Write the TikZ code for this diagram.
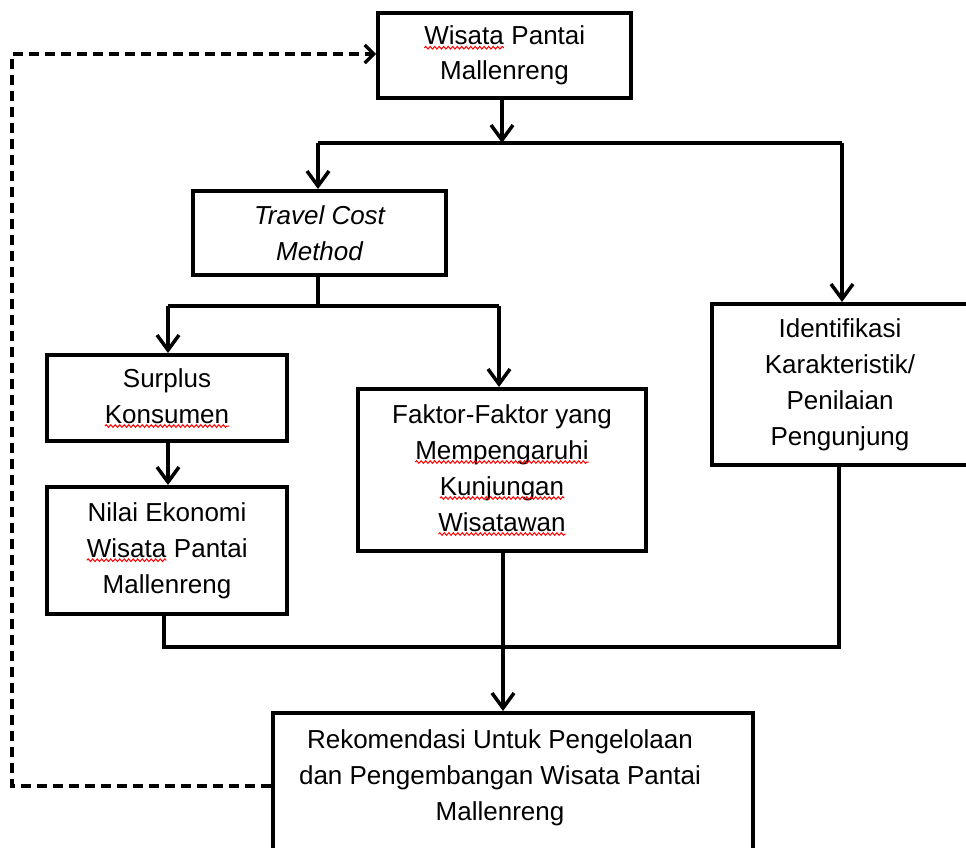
\documentclass[tikz,border=0pt]{standalone}
\usepackage{fontspec}
\setmainfont{Liberation Sans}
\usetikzlibrary{arrows.meta,decorations.pathmorphing}
\newcommand\spellmark[1]{\tikz[baseline=(sw.base)]{\node[draw=none,fill=none,inner sep=0pt,outer sep=0pt,minimum width=0pt,minimum height=0pt,anchor=center](sw){#1};\draw[red,line width=1pt,dash pattern=on 1pt off 0pt,decorate,decoration={snake,amplitude=1.3pt,segment length=4.5pt}]([yshift=-3pt]sw.base west)--([yshift=-3pt]sw.base east);}}
\begin{document}
\begin{tikzpicture}[x=1pt,y=-1pt,
  box/.style={draw,line width=4pt,rectangle,inner sep=0pt,align=center,font=\fontsize{26}{36}\selectfont},
  txt/.style={inner sep=0pt,align=center,font=\fontsize{26}{36}\selectfont},
  conn/.style={line width=3.5pt,line join=miter},
  arr/.style={conn,-{Straight Barb[length=15pt,width=22pt]}},
  fb/.style={line width=3.2pt,dash pattern=on 10pt off 6pt,line join=miter,-{Straight Barb[length=9pt,width=18pt]}}]
\useasboundingbox (0,0) rectangle (966,847);
\clip (0,0) rectangle (966,847);
\fill[white] (0,0) rectangle (966,847);

% boxes
\node[box,minimum width=253pt,minimum height=85pt,font=\fontsize{26}{35}\selectfont] (top) at (504.5,55.5) {\spellmark{Wisata} Pantai\\Mallenreng};
\node[box,minimum width=253pt,minimum height=84pt,font=\fontsize{26}{36}\selectfont\itshape] (tcm) at (319.5,233) {Travel Cost\\Method};
\node[box,minimum width=256pt,minimum height=161pt] (ident) at (840,384.5) {Identifikasi\\Karakteristik/\\Penilaian\\Pengunjung};
\node[box,minimum width=240pt,minimum height=86pt] (surplus) at (167,398) {Surplus\\\spellmark{Konsumen}};
\node[box,minimum width=240pt,minimum height=127pt] (nilai) at (167,550.5) {Nilai Ekonomi\\\spellmark{Wisata} Pantai\\Mallenreng};
\node[box,minimum width=288pt,minimum height=162pt] (faktor) at (502,470) {Faktor-Faktor yang\\\spellmark{Mempengaruhi}\\\spellmark{Kunjungan}\\\spellmark{Wisatawan}};
\node[box,minimum width=480pt,minimum height=187pt] (rek) at (513,806.5) {};
\node[txt] (rektxt) at (500,778) {Rekomendasi Untuk Pengelolaan\\dan Pengembangan Wisata Pantai\\Mallenreng};

% junctions
\coordinate (j1) at (502,143);
\coordinate (j1l) at (318,143);
\coordinate (j1r) at (842,143);
\coordinate (j2) at (318,306);
\coordinate (j2l) at (168,306);
\coordinate (j2r) at (499,306);
\coordinate (j3l) at (164,647);
\coordinate (j3m) at (503,647);
\coordinate (j3r) at (839,647);
\coordinate (fbl) at (12,786);
\coordinate (fbt) at (12,54);

% connectors
\draw[arr] (top.south -| j1) -- (j1);
\draw[conn] (j1l) -- (j1r);
\draw[arr] (j1l) -- (j1l |- tcm.north);
\draw[arr] (j1r) -- (j1r |- ident.north);
\draw[conn] (tcm.south -| j2) -- (j2);
\draw[conn] (j2l) -- (j2r);
\draw[arr] (j2l) -- (j2l |- surplus.north);
\draw[arr] (j2r) -- (j2r |- faktor.north);
\draw[arr] (surplus.south -| j2l) -- (j2l |- nilai.north);
\draw[conn] (nilai.south -| j3l) -- (j3l) -- (j3r) -- (ident.south -| j3r);
\draw[arr] (faktor.south -| j3m) -- (j3m |- rek.north);
\draw[fb] (rek.west |- fbl) -- (fbl) -- (fbt) -- (top.west |- fbt);
\end{tikzpicture}
\end{document}
